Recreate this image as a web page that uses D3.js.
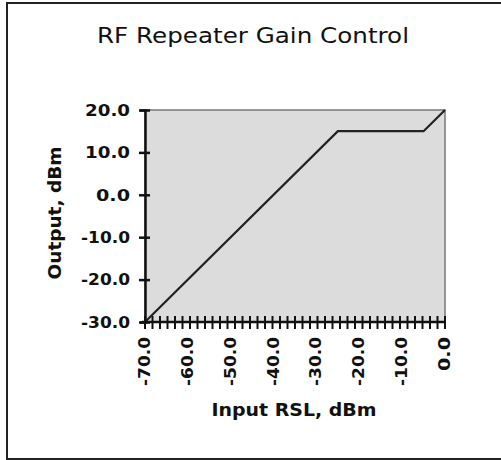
<!DOCTYPE html>
<html>
<head>
<meta charset="utf-8">
<script src="https://cdn.jsdelivr.net/npm/d3@7"></script>
<style>
  body { margin: 0; background: #fff; }
  text { font-family: "DejaVu Sans", Arial, sans-serif; fill: #111; }
</style>
</head>
<body>
<svg id="chart" width="501" height="460"></svg>
<script>
// gain curve break points (input RSL dBm -> output dBm)
var inputRsl = [-70, -25, -5, 0];
var outputDbm = [-30, 15, 15, 20];

var xTickLabels = [-70, -60, -50, -40, -30, -20, -10, 0];
var yTickLabels = [-30, -20, -10, 0, 10, 20];

var width = 501, height = 460;
var margin = {top: 110, right: 56, bottom: 138, left: 145};
var fmt = function(d) { return d3.format(".1f")(d).replace("\u2212", "-"); };
// rough pixel widths of the bitmap-ish labels, by character count
var labelLen = function(d) { var n = fmt(d).length; return n === 3 ? 34 : n === 4 ? 45 : 49; };

var svg = d3.select("#chart");

// outer frame (right edge runs off the picture)
svg.append("path")
  .attr("d", "M503,3H7V459H503")
  .attr("fill", "none")
  .attr("stroke", "#222")
  .attr("stroke-width", 2);

var x = d3.scaleLinear()
  .domain([-70, 0])
  .range([margin.left, width - margin.right]);

var y = d3.scaleLinear()
  .domain([-30, 20])
  .range([height - margin.bottom, margin.top]);

// plot background
svg.append("rect")
  .attr("x", x(-70))
  .attr("y", y(20))
  .attr("width", x(0) - x(-70))
  .attr("height", y(-30) - y(20))
  .attr("fill", "#dcdcdc")
  .attr("stroke", "#777")
  .attr("stroke-width", 1.5);

// line
var line = d3.line()
  .x(function(d, i) { return x(inputRsl[i]); })
  .y(function(d) { return y(d); });

svg.append("path")
  .datum(outputDbm)
  .attr("d", line)
  .attr("fill", "none")
  .attr("stroke", "#222")
  .attr("stroke-width", 2.2);

// y axis
var yAxis = d3.axisLeft(y)
  .tickValues(yTickLabels)
  .tickSize(5);

var gy = svg.append("g")
  .attr("transform", "translate(" + x(-70) + ",0)")
  .call(yAxis);

gy.select(".domain").attr("stroke", "#111").attr("stroke-width", 2.5);
gy.selectAll(".tick line")
  .attr("x1", 5).attr("x2", -6)
  .attr("stroke", "#111").attr("stroke-width", 2.5);
gy.selectAll(".tick text")
  .attr("x", -15)
  .attr("dy", "0.35em")
  .attr("textLength", labelLen)
  .attr("lengthAdjust", "spacingAndGlyphs")
  .style("font-size", "15px")
  .style("font-weight", "bold")
  .style("font-family", "DejaVu Sans, sans-serif")
  .text(fmt);

// x axis: minor ticks
var minorTicks = d3.range(0, 41).map(function(i) { return -70 + i * 1.75; });

var gx = svg.append("g")
  .attr("transform", "translate(0," + y(-30) + ")");

gx.append("line")
  .attr("x1", x(-70) - 3).attr("x2", x(0) + 1)
  .attr("stroke", "#111").attr("stroke-width", 2.5);

gx.selectAll(".minor")
  .data(minorTicks)
  .enter().append("line")
  .attr("class", "minor")
  .attr("x1", function(d) { return x(d); })
  .attr("x2", function(d) { return x(d); })
  .attr("y1", -6).attr("y2", 7)
  .attr("stroke", "#111").attr("stroke-width", 2);

gx.selectAll(".lbl")
  .data(xTickLabels)
  .enter().append("text")
  .attr("class", "lbl")
  .attr("transform", function(d) { return "translate(" + (x(d) + 5) + ",15) rotate(-90)"; })
  .attr("text-anchor", "end")
  .attr("textLength", labelLen)
  .attr("lengthAdjust", "spacingAndGlyphs")
  .style("font-size", "15px")
  .style("font-weight", "bold")
  .text(fmt);

// titles
svg.append("text")
  .attr("x", 253)
  .attr("y", 43)
  .attr("text-anchor", "middle")
  .attr("textLength", 312)
  .attr("lengthAdjust", "spacingAndGlyphs")
  .style("font-size", "21px")
  .style("font-weight", "500")
  .text("RF Repeater Gain Control");

svg.append("text")
  .attr("x", 294)
  .attr("y", 416)
  .attr("text-anchor", "middle")
  .attr("textLength", 165)
  .attr("lengthAdjust", "spacingAndGlyphs")
  .style("font-size", "17px")
  .style("font-weight", "bold")
  .text("Input RSL, dBm");

svg.append("text")
  .attr("transform", "translate(61,213) rotate(-90)")
  .attr("text-anchor", "middle")
  .attr("textLength", 133)
  .attr("lengthAdjust", "spacingAndGlyphs")
  .style("font-size", "17px")
  .style("font-weight", "bold")
  .text("Output, dBm");
</script>
</body>
</html>
